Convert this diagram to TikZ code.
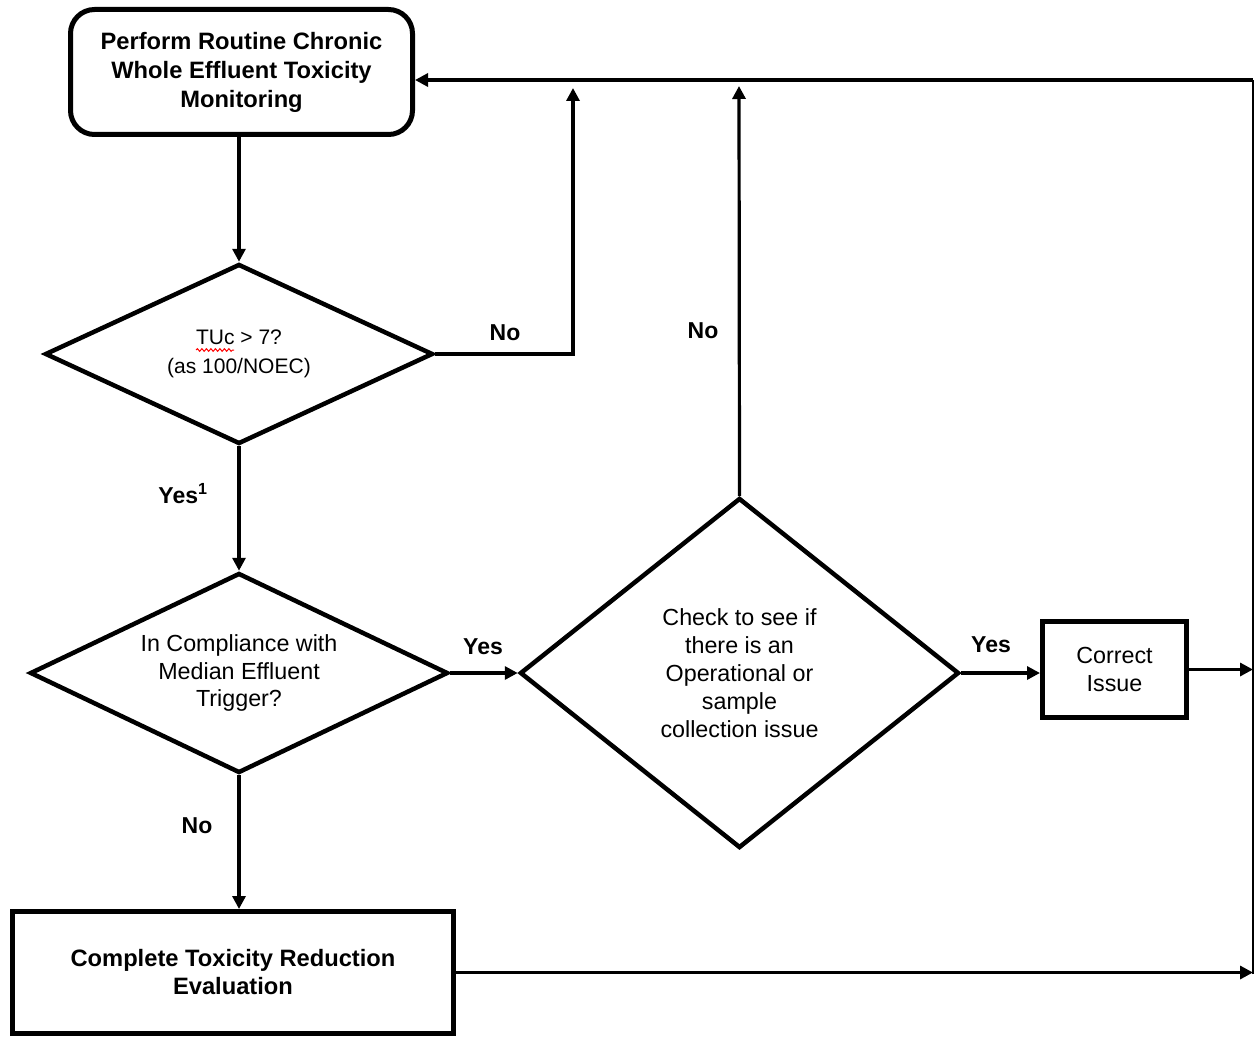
\documentclass[tikz,border=0pt]{standalone}
\usepackage{fontspec}
\setmainfont{Liberation Sans}
\usetikzlibrary{shapes.geometric,arrows.meta,decorations.pathmorphing}
\begin{document}
\begin{tikzpicture}[x=1pt,y=-1pt,
  box/.style={draw, line width=5pt, inner sep=0pt, align=center},
  dia/.style={draw, diamond, line width=4.5pt, inner sep=0pt},
  dtext/.style={inner sep=0pt, align=center},
  conn/.style={line width=3.2pt, -{Triangle[length=13pt,width=13pt]}},
  lab/.style={inner sep=0pt, font=\bfseries\fontsize{23}{28}\selectfont}]
\useasboundingbox (0,0) rectangle (1255,1038);

% nodes
\node[box, rounded corners=24pt, minimum width=342pt, minimum height=125pt,
      font=\bfseries\fontsize{23.7}{29}\selectfont] (top) at (241.5,72)
      {Perform Routine Chronic\\Whole Effluent Toxicity\\Monitoring};
\node[dia, minimum width=388pt, minimum height=180pt] (d1) at (239,354) {};
\node[dtext, font=\fontsize{21}{29}\selectfont] (d1t) at (d1.center)
      {TUc > 7?\\(as 100/NOEC)};
\node[dia, minimum width=418pt, minimum height=200pt] (d2) at (239,673) {};
\node[dtext, font=\fontsize{23.3}{27.5}\selectfont] (d2t) at (d2.center)
      {In Compliance with\\Median Effluent\\Trigger?};
\node[dia, minimum width=439pt, minimum height=350pt] (d3) at (739.5,673) {};
\node[dtext, font=\fontsize{23.3}{28}\selectfont] (d3t) at (d3.center)
      {Check to see if\\there is an\\Operational or\\sample\\collection issue};
\node[box, minimum width=144pt, minimum height=96pt,
      font=\fontsize{23.3}{28}\selectfont] (ci) at (1114.5,669.5)
      {Correct\\Issue};
\node[box, minimum width=441pt, minimum height=122pt,
      font=\bfseries\fontsize{23.7}{28}\selectfont] (tre) at (233,972.5)
      {Complete Toxicity Reduction\\Evaluation};

% spell-check underline under TUc
\draw[red, line width=1pt, decorate, decoration={snake, amplitude=1.3pt, segment length=4.5pt}]
  (196,350) -- (234,350);

% coordinates
\coordinate (r1) at (573,88);
\coordinate (r2) at (739,86);
\coordinate (rtop) at (1253,80);
\coordinate (rbot) at (1253,974);

% connectors
\draw[conn] (d1.north |- top.south) -- (d1.north);
\draw[conn] (d1.east) -- (d1.east -| r1) -- (r1);
\draw[conn] (d1.south) -- (d2.north);
\draw[conn] (d2.east) -- (d3.west);
\draw[conn] (d3.north) -- (r2);
\draw[conn] (d3.east) -- (d3.east -| ci.west);
\draw[conn] (ci.east) -- (ci.east -| rtop);
\draw[conn] (d2.south) -- (d2.south |- tre.north);
\draw[conn] (tre.east) -- (tre.east -| rtop);
\draw[line width=1.8pt] (rbot) -- (rtop);
\draw[conn] (rtop) -- (top.east |- rtop);

% labels
\node[lab] (lno1) at (505,333) {No};
\node[lab] (lno2) at (703,331) {No};
\node[lab] (lyes1) at (183,494) {Yes\textsuperscript{1}};
\node[lab] (lyes2) at (483,647) {Yes};
\node[lab] (lyes3) at (991,645) {Yes};
\node[lab] (lno3) at (197,826) {No};
\end{tikzpicture}
\end{document}
